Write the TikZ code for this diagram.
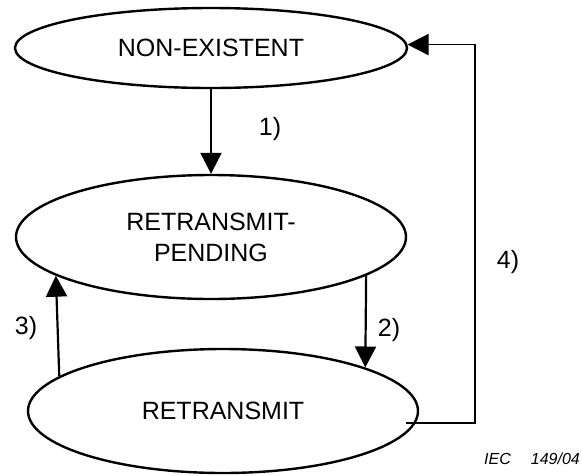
\documentclass[tikz,border=0pt]{standalone}
\usepackage{fontspec}
\setmainfont{Liberation Sans}
\usetikzlibrary{shapes.geometric,arrows.meta,calc}
\begin{document}
\begin{tikzpicture}[x=1pt,y=-1pt,
  st/.style={draw, ellipse, line width=2.4pt, inner sep=0pt, align=center,
             font=\fontsize{25}{31}\selectfont},
  arr/.style={line width=2.2pt, -{Triangle[length=21pt,width=21pt]}},
  arrthin/.style={line width=1.8pt, -{Triangle[length=21pt,width=21pt]}},
  lbl/.style={inner sep=0pt, font=\fontsize{25}{30}\selectfont},
  tag/.style={inner sep=0pt, anchor=east, font=\fontsize{16}{18}\selectfont\itshape}]
\useasboundingbox (0,0) rectangle (582,475);

\node[st, minimum width=392pt, minimum height=80pt]  (e1) at (211,48)  {NON-EXISTENT};
\node[st, minimum width=390pt, minimum height=124pt] (e2) at (211,237) {RETRANSMIT-\\PENDING};
\node[st, minimum width=390pt, minimum height=124pt] (e3) at (223,411) {RETRANSMIT};

% 1)
\draw[arr] (e1.south) -- (e2.north);
\node[lbl] (l1) at (270,129) {1)};

% 2)
\draw[arr] (e2.-14.1) -- (e3.17);
\node[lbl] (l2) at (389,330) {2)};

% 3)
\draw[arr] (e3.168.45) -- (e2.194.32);
\node[lbl] (l3) at (26,328) {3)};

% 4)
\coordinate (a4) at ($(e3.east)+(-13,12)$);
\coordinate (v4) at (475,0);
\draw[arrthin] (a4) -- (a4 -| v4) |- (e1.1.5);
\node[lbl] (l4) at (508,262) {4)};

\node[tag] (iec) at (580,459) {IEC\hspace{20pt}149/04};
\end{tikzpicture}
\end{document}
